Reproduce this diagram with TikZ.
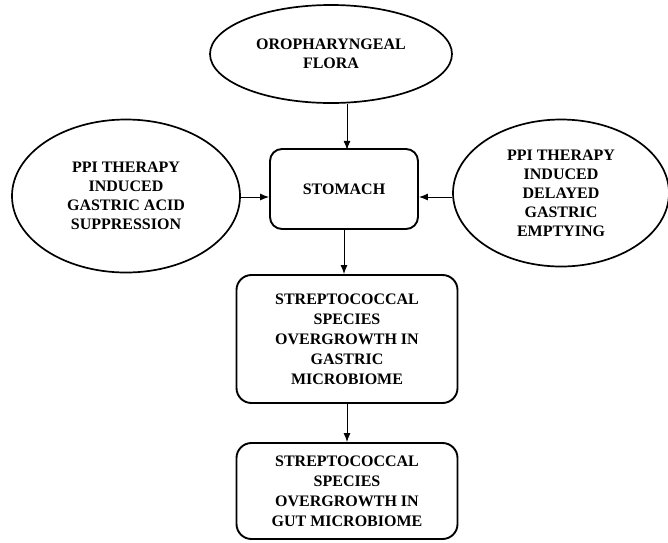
\documentclass[tikz,border=0pt]{standalone}
\usepackage{fontspec}
\setmainfont{Liberation Serif}[BoldFont={Liberation Serif Bold}]
\usetikzlibrary{arrows.meta}
\usetikzlibrary{shapes.geometric}

\begin{document}
\begin{tikzpicture}[x=1pt, y=-1pt]
    \tikzset{>={Latex[length=9pt, width=7pt]}}
    \tikzset{
        oval/.style={ellipse, draw, line width=1.7pt, inner sep=0pt,
            align=center, font=\fontsize{16}{19}\selectfont\bfseries},
        roundbox/.style={rectangle, draw, line width=1.9pt, inner sep=0pt,
            rounded corners=15pt, align=center,
            font=\fontsize{16}{20}\selectfont\bfseries},
        link/.style={->, line width=1pt}
    }

    \useasboundingbox (0, 0) rectangle (668, 542);

    % Causes
    \node[oval, minimum width=242pt, minimum height=98pt] (flora)
        at (331, 54) {OROPHARYNGEAL\\FLORA};
    \node[oval, minimum width=228pt, minimum height=153pt] (acid)
        at (126, 196) {PPI THERAPY\\INDUCED\\GASTRIC ACID\\SUPPRESSION};
    \node[oval, minimum width=216pt, minimum height=147pt] (emptying)
        at (561, 193) {PPI THERAPY\\INDUCED\\DELAYED\\GASTRIC\\EMPTYING};

    % Boxes
    \node[roundbox, minimum width=148pt, minimum height=80pt,
        rounded corners=12pt] (stomach) at (344, 189) {STOMACH};
    \node[roundbox, minimum width=221pt, minimum height=128pt] (gastric)
        at (347, 339) {STREPTOCOCCAL\\SPECIES\\OVERGROWTH IN\\GASTRIC\\MICROBIOME};
    \node[roundbox, minimum width=221pt, minimum height=96pt] (gut)
        at (347, 491) {STREPTOCOCCAL\\SPECIES\\OVERGROWTH IN\\GUT MICROBIOME};

    % Arrows
    \draw[link] (flora.south -| stomach.north) ++(3, 0) -- ++(0, 46);
    \draw[link] (acid.east |- 0, 197) -- (stomach.west |- 0, 197);
    \draw[link] (emptying.west |- 0, 197) -- (stomach.east |- 0, 197);
    \draw[link] (stomach.south) -- (stomach.south |- gastric.north);
    \draw[link] (gastric.south) -- (gut.north);
\end{tikzpicture}
\end{document}
